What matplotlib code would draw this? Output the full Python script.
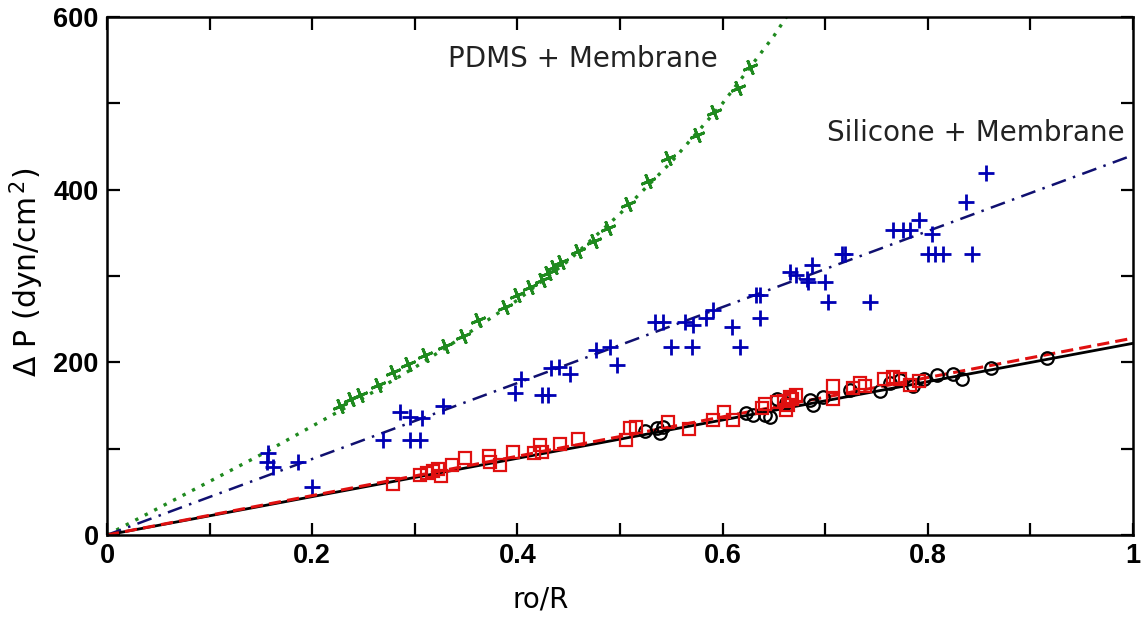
import matplotlib
matplotlib.use("Agg")
import matplotlib.pyplot as plt
from matplotlib.ticker import FuncFormatter

# ---- data ----
pdms_x = [0.227, 0.238, 0.247, 0.264, 0.279, 0.293, 0.310, 0.329, 0.347, 0.362,
          0.388, 0.400, 0.412, 0.424, 0.430, 0.436, 0.443, 0.459, 0.475, 0.488,
          0.508, 0.527, 0.547, 0.575, 0.592, 0.615, 0.627]
pdms_y = [149, 158, 162, 174, 189, 198, 208, 219, 230, 249,
          264, 278, 287, 295, 303, 310, 316, 329, 340, 356,
          383, 410, 437, 463, 490, 518, 542]
pdms_fit_x = [0.0, 0.05, 0.10, 0.15, 0.20, 0.25, 0.30, 0.35, 0.40, 0.45, 0.50, 0.55, 0.60, 0.65, 0.68]
pdms_fit_y = [0, 31, 62, 93, 126, 159, 194, 232, 272, 318, 372, 432, 500, 578, 632]

sil_x = [0.157, 0.156, 0.162, 0.186, 0.200, 0.269, 0.286, 0.295, 0.307, 0.295, 0.305,
         0.328, 0.398, 0.404, 0.424, 0.430, 0.433, 0.441, 0.451, 0.477, 0.490, 0.497,
         0.534, 0.542, 0.550, 0.570, 0.563, 0.571, 0.584, 0.591, 0.609, 0.617, 0.633,
         0.636, 0.636, 0.666, 0.672, 0.682, 0.683, 0.687, 0.700, 0.703, 0.716, 0.719,
         0.744, 0.766, 0.776, 0.783, 0.791, 0.804, 0.800, 0.807, 0.815, 0.837, 0.843, 0.857]
sil_y = [95, 85, 79, 85, 56, 110, 143, 137, 135, 110, 110,
         149, 164, 181, 162, 162, 193, 195, 187, 214, 218, 197,
         247, 247, 218, 218, 247, 243, 251, 261, 241, 218, 278,
         278, 251, 305, 301, 297, 293, 313, 293, 270, 326, 326,
         270, 353, 353, 353, 365, 349, 326, 326, 326, 386, 326, 419]
sil_fit_x = [0.0, 1.0]
sil_fit_y = [0, 440]

red_x = [0.279, 0.305, 0.312, 0.318, 0.323, 0.326, 0.336, 0.349, 0.372, 0.373, 0.383,
         0.396, 0.416, 0.422, 0.424, 0.4415, 0.459, 0.506, 0.510, 0.516, 0.547, 0.567,
         0.591, 0.601, 0.610, 0.638, 0.641, 0.653, 0.660, 0.662, 0.664, 0.666, 0.668,
         0.672, 0.708, 0.708, 0.727, 0.734, 0.739, 0.757, 0.766, 0.773, 0.783, 0.791]
red_y = [59, 70, 72, 74, 76, 68, 81, 89, 91, 85, 81,
         96, 95, 104, 96, 105, 111, 110, 124, 125, 131, 123,
         133, 143, 133, 147, 152, 154, 155, 145, 150, 160, 158,
         162, 172, 158, 170, 176, 172, 181, 183, 181, 174, 178]
red_fit_x = [0.0, 1.0]
red_fit_y = [0, 228]

blk_x = [0.524, 0.536, 0.539, 0.542, 0.623, 0.630, 0.641, 0.646, 0.653, 0.662, 0.685,
         0.688, 0.698, 0.724, 0.753, 0.763, 0.773, 0.786, 0.796, 0.809, 0.825, 0.833,
         0.862, 0.916]
blk_y = [120, 124, 118, 125, 141, 139, 139, 137, 158, 153, 156,
         151, 160, 168, 167, 176, 180, 172, 181, 185, 187, 181,
         193, 205]
blk_fit_x = [0.0, 1.0]
blk_fit_y = [0, 222]

x_ticks = [0, 0.1, 0.2, 0.3, 0.4, 0.5, 0.6, 0.7, 0.8, 0.9, 1.0]
y_ticks = [0, 100, 200, 300, 400, 500, 600]

GREEN = "#1f8a1f"
BLUE = "#0000b4"
NAVY = "#101070"
RED = "#e01010"

fig = plt.figure(figsize=(11.45, 6.23), dpi=100)
ax = fig.add_axes([0.0934, 0.1413, 0.8961, 0.8314])

ax.plot(pdms_fit_x, pdms_fit_y, linestyle=(0, (1, 2.2)), color=GREEN, lw=2.4)
ax.plot(pdms_x, pdms_y, linestyle="none", marker=(4, 2, 22), ms=11, mew=2.0, color=GREEN)

ax.plot(sil_fit_x, sil_fit_y, linestyle=(0, (6, 3, 1, 3)), color=NAVY, lw=1.8)
ax.plot(sil_x, sil_y, linestyle="none", marker="+", ms=12, mew=2.0, color=BLUE)

ax.plot(blk_fit_x, blk_fit_y, linestyle="-", color="black", lw=2.0)
ax.plot(red_fit_x, red_fit_y, linestyle=(0, (4, 2)), color=RED, lw=2.2)
ax.plot(blk_x, blk_y, linestyle="none", marker="o", ms=9, mew=1.6, mfc="none", mec="black")
ax.plot(red_x, red_y, linestyle="none", marker="s", ms=9, mew=1.6, mfc="none", mec=RED)

ax.set_xlim(0, 1)
ax.set_ylim(0, 600)
ax.set_xticks(x_ticks)
ax.set_yticks(y_ticks)
ax.xaxis.set_major_formatter(FuncFormatter(
    lambda v, p: ("0" if abs(v) < 1e-9 else ("1" if abs(v - 1) < 1e-9 else f"{v:.1f}"))
    if round(v * 10) % 2 == 0 else ""))
ax.yaxis.set_major_formatter(FuncFormatter(
    lambda v, p: f"{int(round(v))}" if int(round(v)) % 200 == 0 else ""))

ax.tick_params(direction="in", length=9, width=1.6, top=True, right=True,
               labelsize=19.5, pad=6)
for lab in ax.get_xticklabels() + ax.get_yticklabels():
    lab.set_fontfamily("Liberation Sans")
    lab.set_fontweight("bold")
for sp in ax.spines.values():
    sp.set_linewidth(1.8)

# axis labels placed where they sit in the reference
fig.text(541 / 1145, 1 - 600 / 623, "ro/R", fontsize=20, family="DejaVu Sans",
         ha="center", va="center")
fig.text(27 / 1145, 1 - 272 / 623, "$\\Delta$ P (dyn/cm$^{\\,2}$)", fontsize=21.5,
         family="DejaVu Sans", ha="center", va="center", rotation=90)

ax.text(0.464, 551, "PDMS + Membrane", fontsize=20, family="DejaVu Sans",
        ha="center", va="center", color="#222222")
ax.text(0.847, 466, "Silicone + Membrane", fontsize=20, family="DejaVu Sans",
        ha="center", va="center", color="#222222")

fig.savefig("out.png", dpi=100)
